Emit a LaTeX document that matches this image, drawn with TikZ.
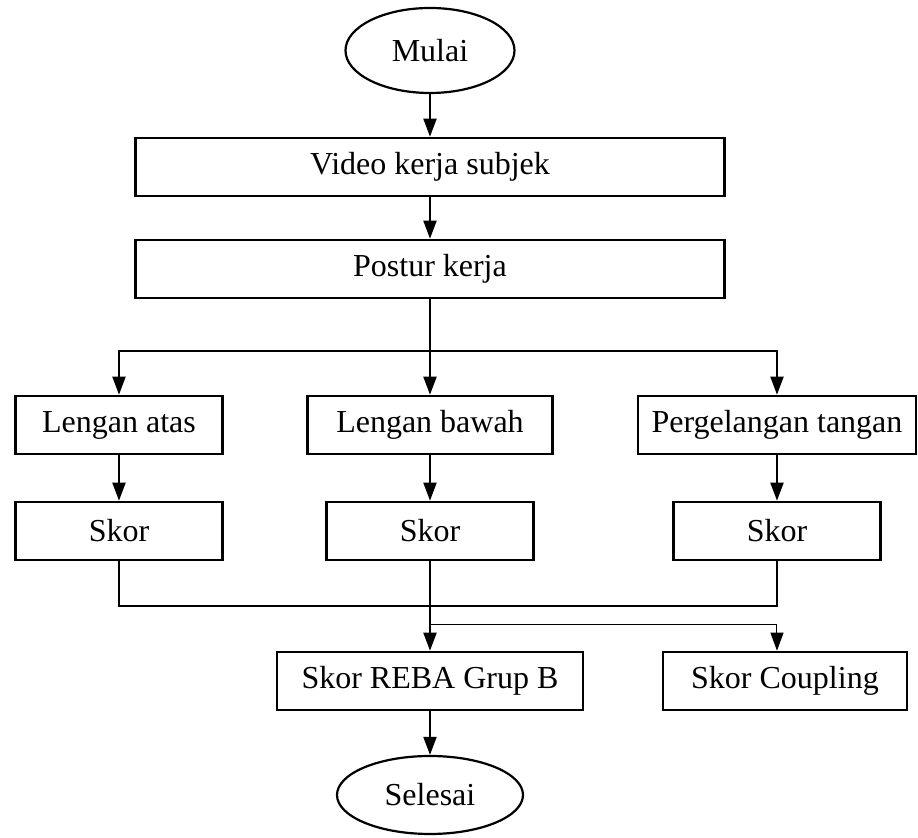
\documentclass[tikz,border=0pt]{standalone}
\usepackage{fontspec}
\setmainfont{Liberation Serif}
\usetikzlibrary{shapes.geometric,arrows.meta,positioning}
\begin{document}
\begin{tikzpicture}[
        node distance=50pt,
        font=\fontsize{16}{19}\selectfont,
        % Mulai / Selesai
        terminal/.style={
            ellipse, draw=black, line width=1.1pt,
            minimum width=84.5pt, minimum height=42.5pt, inner sep=0pt
        },
        % Kotak proses
        proc/.style={
            rectangle, draw=black, line width=1.3pt,
            minimum height=29pt, inner sep=2pt
        },
        % Panah
        arr/.style={-{Triangle[length=9pt,width=6.5pt]}, line width=1pt},
        % Panah tipis
        thinarr/.style={-{Triangle[length=9pt,width=6.5pt]}, line width=0.5pt},
        % Garis penghubung
        link/.style={line width=1pt}
    ]
        \useasboundingbox (-215pt,25.25pt) rectangle (244pt,-393.75pt);

        % Mulai
        \node [terminal] (mulai) {Mulai};

        % Proses utama
        \node [proc, minimum width=294.5pt, node distance=58.25pt, below of=mulai] (video) {Video kerja subjek};
        \node [proc, minimum width=294.5pt, node distance=51pt, below of=video] (postur) {Postur kerja};

        % Bagian tubuh
        \node [proc, minimum width=122.5pt, node distance=78pt, below of=postur] (bawah) {Lengan bawah};
        \node [proc, minimum width=103.5pt, node distance=155.5pt, left of=bawah] (atas) {Lengan atas};
        \node [proc, minimum width=139pt, node distance=173.5pt, right of=bawah] (tangan) {Pergelangan tangan};

        % Skor
        \node [proc, minimum width=103.5pt, node distance=53pt, below of=atas] (skorA) {Skor};
        \node [proc, minimum width=103.5pt, node distance=53pt, below of=bawah] (skorB) {Skor};
        \node [proc, minimum width=103.5pt, node distance=53pt, below of=tangan] (skorC) {Skor};

        % Hasil
        \node [proc, minimum width=153pt, node distance=75pt, below of=skorB] (reba) {Skor REBA Grup B};
        \node [proc, minimum width=122pt, node distance=177.5pt, right of=reba] (coupling) {Skor Coupling};

        % Selesai
        \node [terminal, minimum width=93pt, minimum height=39pt, node distance=57pt, below of=reba] (selesai) {Selesai};

        % Titik cabang
        \coordinate [node distance=41pt, below of=postur] (fork);
        \coordinate [node distance=37.5pt, below of=skorB] (join);
        \coordinate [node distance=47pt, below of=skorB] (split);

        % Panah
        \draw [arr] (mulai) -- (video);
        \draw [arr] (video) -- (postur);
        \draw [link] (postur) -- (fork);
        \draw [arr] (fork) -- (bawah);
        \draw [arr] (fork) -| (atas);
        \draw [arr] (fork) -| (tangan);
        \draw [arr] (atas) -- (skorA);
        \draw [arr] (bawah) -- (skorB);
        \draw [arr] (tangan) -- (skorC);
        \draw [link] (skorA) |- (join) -| (skorC);
        \draw [arr] (skorB) -- (reba);
        \draw [thinarr] (split) -| (skorC |- coupling.north);
        \draw [arr] (reba) -- (selesai);

    \end{tikzpicture}
\end{document}
